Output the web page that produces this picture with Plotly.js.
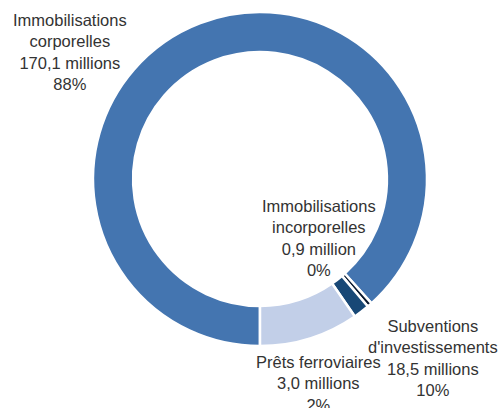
<!DOCTYPE html>
<html>
<head>
<meta charset="utf-8">
<script src="https://cdn.plot.ly/plotly-3.0.1.min.js"></script>
<style>html,body{margin:0;padding:0;background:#fff;}#chart{width:502px;height:408px;}</style>
</head>
<body>
<div id="chart"></div>
<script>
const categories = ["Immobilisations corporelles", "Immobilisations incorporelles", "Prêts ferroviaires", "Subventions d'investissements"];
const values = [170.1, 0.9, 3.0, 18.5];
const labelTexts = [
  "Immobilisations<br>corporelles<br>170,1 millions<br>88%",
  "Immobilisations<br>incorporelles<br>0,9 million<br>0%",
  "Prêts ferroviaires<br>3,0 millions<br>2%",
  "Subventions<br>d'investissements<br>18,5 millions<br>10%"
];
const colors = ["#4475b0", "#0b1a30", "#184876", "#c2cfe8"];

const W = 502, H = 408;
const labelPos = [[70, 52], [319, 238], [318, 383], [433, 358]];

const trace = {
  type: "pie",
  labels: categories,
  values: values,
  sort: false,
  direction: "clockwise",
  rotation: 180,
  hole: 0.76,
  textinfo: "none",
  hoverinfo: "label+value+percent",
  marker: { colors: colors, line: { color: "#ffffff", width: 2.5 } },
  domain: { x: [93 / W, 427 / W], y: [1 - 346 / H, 1 - 12 / H] },
  showlegend: false
};

const annotations = labelTexts.map((t, i) => ({
  text: t,
  xref: "paper", yref: "paper",
  x: labelPos[i][0] / W, y: 1 - labelPos[i][1] / H,
  xanchor: "center", yanchor: "middle",
  align: "center",
  showarrow: false,
  font: { family: "Liberation Sans, Arial, sans-serif", size: 16.5, color: "#333333" }
}));

const layout = {
  width: W, height: H,
  margin: { l: 0, r: 0, t: 0, b: 0 },
  paper_bgcolor: "#ffffff",
  plot_bgcolor: "#ffffff",
  showlegend: false,
  annotations: annotations
};

Plotly.newPlot("chart", [trace], layout, { displayModeBar: false, staticPlot: true });
</script>
</body>
</html>
